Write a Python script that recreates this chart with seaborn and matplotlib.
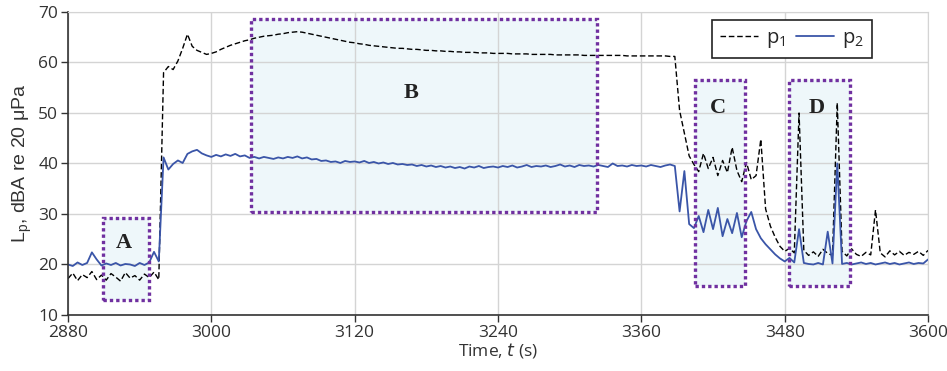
import numpy as np
import pandas as pd
import matplotlib
matplotlib.use('Agg')
import matplotlib.pyplot as plt
from matplotlib.patches import Rectangle
import seaborn as sns

# sampling grid, one reading every 4 s
t = np.arange(2880, 3601, 4)

# p1 readings (black, dashed), dBA
p1 = [
    17.2, 18.3, 16.8, 18.0, 17.4, 18.6, 17.0, 17.9, 16.9, 18.2,
    17.5, 16.7, 18.4, 17.3, 17.8, 16.9, 18.1, 17.4, 18.5, 17.0,
    58.0, 59.2, 58.6, 60.3, 62.8, 65.6, 63.2, 62.4, 62.0, 61.6,
    61.8, 62.1, 62.6, 63.0, 63.4, 63.7, 64.0, 64.3, 64.5, 64.8,
    65.0, 65.2, 65.3, 65.4, 65.6, 65.7, 65.9, 66.0, 66.1, 66.0,
    65.8, 65.6, 65.4, 65.2, 65.0, 64.8, 64.6, 64.4, 64.2, 64.0,
    63.9, 63.7, 63.6, 63.4, 63.3, 63.2, 63.1, 63.0, 62.9, 62.8,
    62.8, 62.7, 62.6, 62.6, 62.5, 62.4, 62.4, 62.3, 62.3, 62.2,
    62.2, 62.1, 62.1, 62.0, 62.0, 62.0, 61.9, 61.9, 61.9, 61.8,
    61.8, 61.8, 61.8, 61.7, 61.7, 61.7, 61.7, 61.6, 61.6, 61.6,
    61.6, 61.6, 61.5, 61.5, 61.5, 61.5, 61.5, 61.5, 61.4, 61.4,
    61.4, 61.4, 61.4, 61.4, 61.4, 61.4, 61.4, 61.3, 61.3, 61.3,
    61.3, 61.3, 61.3, 61.3, 61.3, 61.3, 61.2, 61.2, 50.5, 46.0,
    41.5, 39.8, 38.4, 42.0, 39.0, 41.2, 37.6, 40.6, 38.2, 43.2,
    38.6, 36.4, 40.2, 36.8, 37.6, 44.8, 31.0, 27.6, 25.4, 23.6,
    22.6, 23.2, 22.3, 50.0, 22.8, 21.8, 22.5, 21.6, 23.0, 22.2,
    21.8, 52.0, 22.6, 21.7, 23.1, 22.0, 21.6, 22.4, 21.9, 30.8,
    22.3, 21.5, 22.7, 21.9, 22.6, 21.8, 22.4, 22.0, 22.6, 21.8,
    22.8,
]

# p2 readings (blue, solid), dBA
p2 = [
    20.0, 19.7, 20.4, 19.9, 20.3, 22.4, 21.0, 19.8, 20.2, 19.9,
    20.3, 19.8, 20.1, 20.0, 19.7, 20.3, 19.9, 20.4, 22.5, 20.6,
    41.2, 38.8, 39.9, 40.6, 40.1, 41.9, 42.4, 42.7, 42.0, 41.6,
    41.3, 41.7, 41.4, 41.8, 41.5, 41.9, 41.4, 41.6, 41.1, 41.3,
    41.0, 41.3, 41.1, 40.9, 41.2, 41.0, 41.3, 41.1, 41.4, 41.0,
    41.2, 40.8, 40.9, 40.5, 40.6, 40.3, 40.4, 40.1, 40.5, 40.3,
    40.4, 40.2, 40.5, 40.1, 40.3, 40.0, 40.2, 39.9, 40.1, 39.8,
    39.9, 39.7, 39.8, 39.5, 39.7, 39.4, 39.6, 39.3, 39.5, 39.2,
    39.4, 39.1, 39.3, 39.0, 39.4, 39.2, 39.5, 39.1, 39.3, 39.4,
    39.2, 39.5, 39.3, 39.6, 39.2, 39.4, 39.7, 39.3, 39.5, 39.4,
    39.6, 39.3, 39.5, 39.8, 39.4, 39.6, 39.3, 39.7, 39.5, 39.6,
    39.4, 39.7, 39.5, 39.3, 40.0, 39.5, 39.6, 39.4, 39.7, 39.5,
    39.6, 39.4, 39.7, 39.5, 39.3, 39.6, 39.8, 39.5, 30.5, 38.5,
    28.0, 27.2, 29.6, 26.4, 30.8, 27.0, 31.2, 25.6, 29.0, 26.2,
    30.2, 25.4, 28.6, 30.4, 27.0, 25.2, 24.0, 23.0, 22.0, 21.2,
    20.6, 21.3, 20.4, 27.0, 20.3, 20.1, 20.0, 20.3, 20.0, 26.5,
    20.2, 40.0, 20.1, 20.3, 20.0, 20.2, 20.4, 20.1, 20.3, 20.0,
    20.2, 20.4, 20.1, 20.3, 20.0, 20.2, 20.4, 20.1, 20.3, 20.2,
    21.0,
]

# highlighted regions: label, t start, t end, y low, y high
regions = ['A', 'B', 'C', 'D']
reg_t0 = [2909, 3033, 3405, 3484]
reg_t1 = [2948, 3323, 3447, 3535]
reg_y0 = [13.0, 30.4, 15.7, 15.7]
reg_y1 = [29.2, 68.6, 56.5, 56.5]
reg_lx = [2927, 3167, 3424, 3507]
reg_ly = [24.3, 54.0, 51.0, 51.0]

df = pd.DataFrame({'t': t, 'p1': p1, 'p2': p2})

sns.set_style('whitegrid')
plt.rcParams['font.family'] = ['Open Sans', 'DejaVu Sans']

fig, ax = plt.subplots(figsize=(9.47, 3.71), dpi=100)
fig.subplots_adjust(left=0.0718, right=0.980, top=0.9677, bottom=0.151)

# shaded boxes (fill behind the data, dotted border on top)
for lab, x0, x1, y0, y1, lx, ly in zip(regions, reg_t0, reg_t1, reg_y0, reg_y1, reg_lx, reg_ly):
    ax.add_patch(Rectangle((x0, y0), x1 - x0, y1 - y0, facecolor='#eef7fa',
                           edgecolor='none', zorder=0.3))
    ax.add_patch(Rectangle((x0, y0), x1 - x0, y1 - y0, facecolor='none',
                           edgecolor='#7030a0', linestyle=(0, (1, 0.9)),
                           linewidth=2.4, zorder=3))
    ax.text(lx, ly, lab, family='Liberation Serif', weight='bold', fontsize=16,
            ha='center', va='center', color='#222222', zorder=4)

sns.lineplot(data=df, x='t', y='p1', ax=ax, color='black', linewidth=1.0,
             linestyle=(0, (4, 2)), label=r'p$_\mathregular{1}$', zorder=2)
sns.lineplot(data=df, x='t', y='p2', ax=ax, color='#3a55a8', linewidth=1.3,
             label=r'p$_\mathregular{2}$', zorder=2.1)

ax.set_xlim(2880, 3600)
ax.set_ylim(10, 70)
ax.set_xticks(range(2880, 3601, 120))
ax.set_yticks(range(10, 71, 10))
ax.set_axisbelow(True)
ax.grid(color='#d4d4d4', linewidth=1)

for side in ['top', 'right']:
    ax.spines[side].set_color('#d4d4d4')
for side in ['left', 'bottom']:
    ax.spines[side].set_color('#333333')
    ax.spines[side].set_linewidth(1.2)

ax.tick_params(bottom=True, left=True, length=5, width=1, color='#333333',
               labelsize=12.5, labelcolor='#333333', pad=2)
ax.set_xlabel('Time, $t$ (s)', fontsize=12.5, color='#333333', labelpad=0)
ax.set_ylabel('L$_\\mathregular{p}$, dBA re 20 μPa', family='Liberation Sans',
              fontsize=14, color='#333333', labelpad=3)

leg = ax.legend(loc='upper right', bbox_to_anchor=(0.935, 0.975), ncol=2,
                frameon=True, fancybox=False, edgecolor='#222222', framealpha=1,
                fontsize=14.5, handlelength=1.9, columnspacing=0.5,
                handletextpad=0.4, borderaxespad=0, borderpad=0.4)
leg.get_frame().set_linewidth(1.2)

plt.savefig('out.png', dpi=100)
